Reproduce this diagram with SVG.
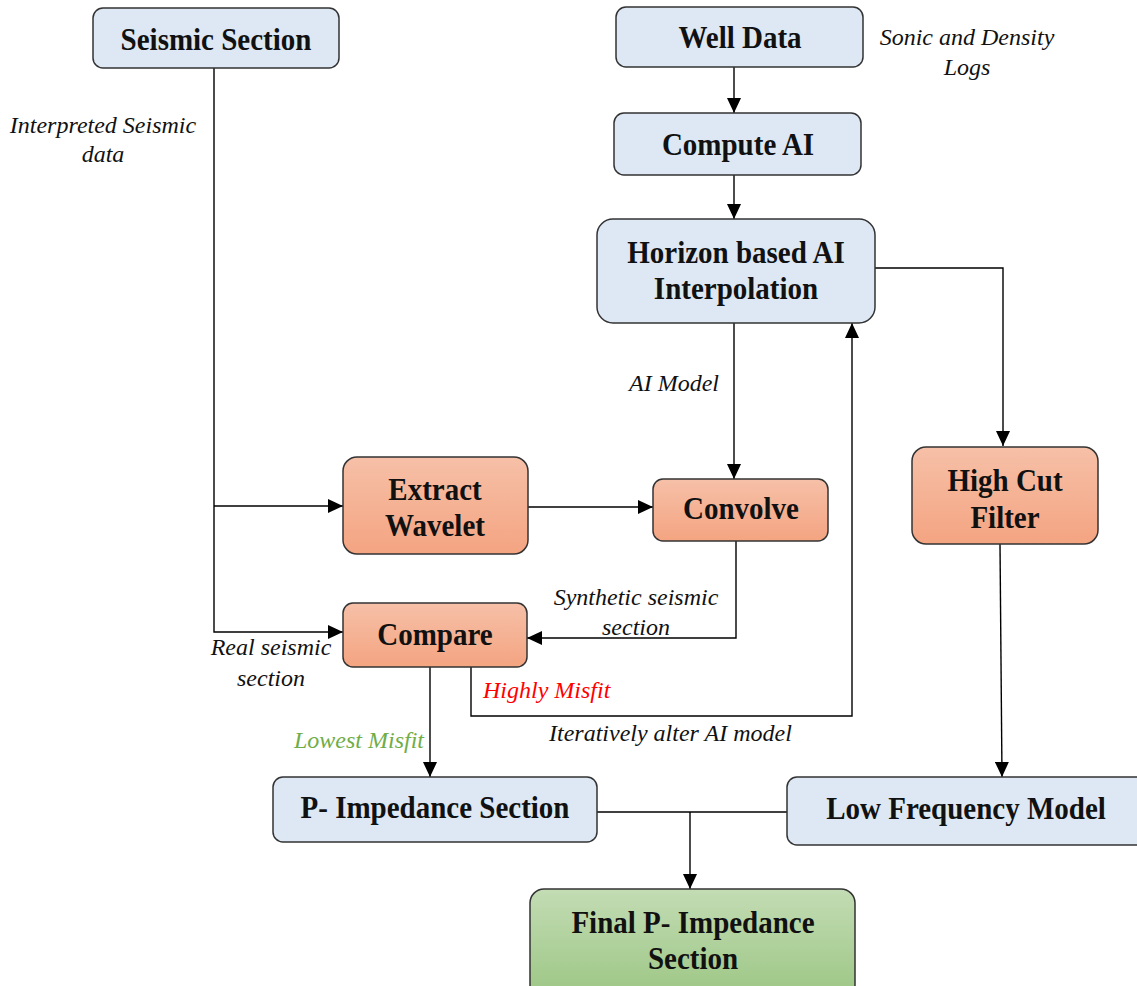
<svg xmlns="http://www.w3.org/2000/svg" width="1137" height="986" viewBox="0 0 1137 986">
  <defs>
    <linearGradient id="orangeFill" x1="0" y1="0" x2="0" y2="1">
      <stop offset="0" stop-color="#f6c0a8"/>
      <stop offset="1" stop-color="#f4a481"/>
    </linearGradient>
    <linearGradient id="greenFill" x1="0" y1="0" x2="0" y2="1">
      <stop offset="0" stop-color="#c3dcb4"/>
      <stop offset="1" stop-color="#9cc684"/>
    </linearGradient>
    <marker id="arrow" viewBox="0 0 15 14" refX="15" refY="7" markerWidth="15" markerHeight="14" markerUnits="userSpaceOnUse" orient="auto">
      <path d="M0,0 L15,7 L0,14 Z" fill="#000"/>
    </marker>
  </defs>
  <style>
    .blue { fill: #dde8f4; stroke: #333; stroke-width: 1.5; }
    .orange { fill: url(#orangeFill); stroke: #333; stroke-width: 1.5; }
    .green { fill: url(#greenFill); stroke: #333; stroke-width: 1.5; }
    .title { font-family: "Liberation Serif", "Times New Roman", serif; font-weight: bold; font-size: 29px; fill: #111; text-anchor: middle; }
    .note { font-family: "Liberation Serif", "Times New Roman", serif; font-style: italic; font-size: 24px; fill: #111; }
    .wire { fill: none; stroke: #000; stroke-width: 1.4; }
  </style>
  <rect width="1137" height="986" fill="#fff"/>

  <!-- connectors -->
  <g id="connectors">
    <path class="wire" d="M214,68 V632 H343" marker-end="url(#arrow)"/>
    <path class="wire" d="M214,506 H343" marker-end="url(#arrow)"/>
    <path class="wire" d="M734,67 V113" marker-end="url(#arrow)"/>
    <path class="wire" d="M734,175 V219" marker-end="url(#arrow)"/>
    <path class="wire" d="M875,268 H1003 V446" marker-end="url(#arrow)"/>
    <path class="wire" d="M734,323 V479" marker-end="url(#arrow)"/>
    <path class="wire" d="M528,507 H653" marker-end="url(#arrow)"/>
    <path class="wire" d="M736,541 V638 H527" marker-end="url(#arrow)"/>
    <path class="wire" d="M430,667 V777" marker-end="url(#arrow)"/>
    <path class="wire" d="M471,667 V716 H852 V323" marker-end="url(#arrow)"/>
    <path class="wire" d="M1000,544 L1002,777" marker-end="url(#arrow)"/>
    <path class="wire" d="M597,812 H787"/>
    <path class="wire" d="M690,812 V889" marker-end="url(#arrow)"/>
  </g>

  <!-- connector labels -->
  <g id="labels">
    <text class="note" x="103" y="133" text-anchor="middle">Interpreted Seismic</text>
    <text class="note" x="103" y="162" text-anchor="middle">data</text>
    <text class="note" x="967" y="45" text-anchor="middle">Sonic and Density</text>
    <text class="note" x="967" y="75" text-anchor="middle">Logs</text>
    <text class="note" x="674" y="391" text-anchor="middle">AI Model</text>
    <text class="note" x="636" y="605" text-anchor="middle">Synthetic seismic</text>
    <text class="note" x="636" y="635" text-anchor="middle">section</text>
    <text class="note" x="271" y="655" text-anchor="middle">Real seismic</text>
    <text class="note" x="271" y="686" text-anchor="middle">section</text>
    <text class="note" x="483" y="698" style="fill:#ff0000">Highly Misfit</text>
    <text class="note" x="424" y="748" text-anchor="end" style="fill:#70ad47">Lowest Misfit</text>
    <text class="note" x="549" y="741">Iteratively alter AI model</text>
  </g>

  <!-- nodes -->
  <g id="seismic-section">
    <rect class="blue" x="93" y="8" width="246" height="60" rx="10"/>
    <text class="title" transform="translate(216 50) scale(1 1.08)">Seismic Section</text>
  </g>
  <g id="well-data">
    <rect class="blue" x="616" y="7" width="247" height="60" rx="10"/>
    <text class="title" transform="translate(740 48) scale(1 1.08)">Well Data</text>
  </g>
  <g id="compute-ai">
    <rect class="blue" x="614" y="113" width="247" height="62" rx="10"/>
    <text class="title" transform="translate(738 155) scale(1 1.08)">Compute AI</text>
  </g>
  <g id="horizon-interpolation">
    <rect class="blue" x="597" y="219" width="278" height="104" rx="16"/>
    <text class="title" transform="translate(736 263) scale(1 1.08)">Horizon based AI</text>
    <text class="title" transform="translate(736 299) scale(1 1.08)">Interpolation</text>
  </g>
  <g id="extract-wavelet">
    <rect class="orange" x="343" y="457" width="185" height="97" rx="14"/>
    <text class="title" transform="translate(435 500) scale(1 1.08)">Extract</text>
    <text class="title" transform="translate(435 536) scale(1 1.08)">Wavelet</text>
  </g>
  <g id="convolve">
    <rect class="orange" x="653" y="479" width="175" height="62" rx="10"/>
    <text class="title" transform="translate(741 519) scale(1 1.08)">Convolve</text>
  </g>
  <g id="compare">
    <rect class="orange" x="343" y="603" width="184" height="64" rx="10"/>
    <text class="title" transform="translate(435 645) scale(1 1.08)">Compare</text>
  </g>
  <g id="high-cut-filter">
    <rect class="orange" x="912" y="447" width="186" height="97" rx="14"/>
    <text class="title" transform="translate(1005 491) scale(1 1.08)">High Cut</text>
    <text class="title" transform="translate(1005 528) scale(1 1.08)">Filter</text>
  </g>
  <g id="p-impedance">
    <rect class="blue" x="273" y="777" width="324" height="65" rx="10"/>
    <text class="title" transform="translate(435 818) scale(1 1.08)">P- Impedance Section</text>
  </g>
  <g id="low-frequency-model">
    <rect class="blue" x="787" y="777" width="360" height="68" rx="10"/>
    <text class="title" transform="translate(966 819) scale(1 1.08)">Low Frequency Model</text>
  </g>
  <g id="final-p-impedance">
    <rect class="green" x="530" y="889" width="325" height="110" rx="14"/>
    <text class="title" transform="translate(693 933) scale(1 1.08)">Final P- Impedance</text>
    <text class="title" transform="translate(693 969) scale(1 1.08)">Section</text>
  </g>
</svg>
